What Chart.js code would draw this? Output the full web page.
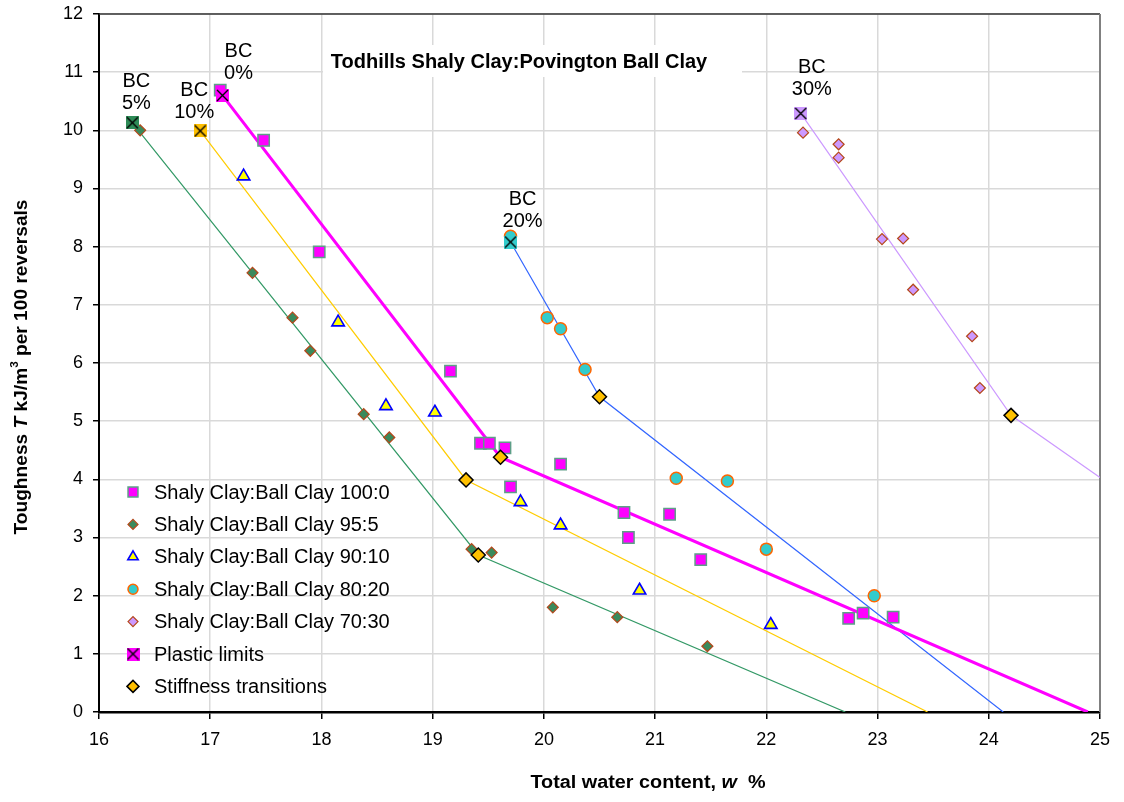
<!DOCTYPE html>
<html>
<head>
<meta charset="utf-8">
<title>Toughness vs water content</title>
<script src="https://cdn.jsdelivr.net/npm/chart.js@4.4.1/dist/chart.umd.min.js"></script>
<style>
  html, body { margin: 0; padding: 0; background: #fff; }
  #wrap { width: 1124px; height: 802px; }
</style>
</head>
<body>
<div id="wrap"><canvas id="toughChart" width="1124" height="802"></canvas></div>
<script>
// water content (x) and toughness (y)
const w100 = [17.09, 17.48, 17.98, 19.16, 19.43, 19.51, 19.65, 20.15, 19.70, 20.72, 21.13, 20.76, 21.41, 22.74, 22.87, 23.14];
const t100 = [10.69, 9.83, 7.91, 5.86, 4.62, 4.62, 4.54, 4.26, 3.87, 3.43, 3.40, 3.00, 2.62, 1.61, 1.70, 1.63];

const w95 = [16.37, 17.38, 17.74, 17.90, 18.38, 18.61, 19.35, 19.53, 20.08, 20.66, 21.47];
const t95 = [10.00, 7.55, 6.78, 6.21, 5.12, 4.72, 2.80, 2.74, 1.80, 1.63, 1.13];

const w90 = [17.30, 18.15, 18.58, 19.02, 19.79, 20.15, 20.86, 22.04];
const t90 = [9.21, 6.70, 5.26, 5.15, 3.61, 3.21, 2.09, 1.50];

const w80 = [19.70, 20.03, 20.15, 20.37, 21.19, 21.65, 22.00, 22.97];
const t80 = [8.18, 6.78, 6.59, 5.89, 4.02, 3.97, 2.80, 2.00];

const w70 = [22.33, 22.65, 22.65, 23.04, 23.23, 23.32, 23.85, 23.92];
const t70 = [9.96, 9.76, 9.53, 8.13, 8.14, 7.26, 6.46, 5.57];

// plastic limits, in order BC 0%, 5%, 10%, 20%, 30%
const plasticNames = ['0%', '5%', '10%', '20%', '30%'];
const wPlastic = [17.11, 16.30, 16.91, 19.70, 22.31];
const tPlastic = [10.60, 10.13, 9.99, 8.08, 10.29];

const wStiff = [19.30, 19.41, 19.61, 20.50, 24.20];
const tStiff = [3.99, 2.70, 4.38, 5.42, 5.10];

// bilinear fit lines (vertices)
const wFit0 = [17.11, 19.61, 24.89];   const tFit0 = [10.60, 4.38, 0];
const wFit5 = [16.30, 19.41, 22.71];   const tFit5 = [10.13, 2.70, 0];
const wFit10 = [16.91, 19.30, 23.45];  const tFit10 = [9.99, 3.99, 0];
const wFit20 = [19.70, 20.50, 24.13];  const tFit20 = [8.08, 5.42, 0];
const wFit30 = [22.31, 24.20, 25.00];  const tFit30 = [10.29, 5.10, 4.03];

const xTicks = [16, 17, 18, 19, 20, 21, 22, 23, 24, 25];
const yTicks = [0, 1, 2, 3, 4, 5, 6, 7, 8, 9, 10, 11, 12];

const FONT = '"Liberation Sans", Arial, sans-serif';

const pts = (xs, ys) => xs.map((x, i) => ({ x: x, y: ys[i] }));

// square with a cross, for the plastic limit marks
function crossSquare(fill, size) {
    const c = document.createElement('canvas');
    c.width = size; c.height = size;
    const g = c.getContext('2d');
    g.fillStyle = fill;
    g.fillRect(0, 0, size, size);
    g.strokeStyle = '#000';
    g.lineWidth = 1.4;
    g.beginPath();
    g.moveTo(1, 1); g.lineTo(size - 1, size - 1);
    g.moveTo(size - 1, 1); g.lineTo(1, size - 1);
    g.stroke();
    return c;
}
const plasticColors = ['#FF00FF', '#2E8B57', '#FFC000', '#33CCCC', '#CC99FF'];
const plasticMarks = plasticColors.map(c => crossSquare(c, 13));

function fitLine(xs, ys, color, width) {
    return {
        isFit: true, data: pts(xs, ys), showLine: true, pointRadius: 0,
        borderColor: color, borderWidth: width, fill: false, order: 10
    };
}

const datasets = [
    fitLine(wFit0, tFit0, '#FF00FF', 3),
    fitLine(wFit5, tFit5, '#339966', 1.2),
    fitLine(wFit10, tFit10, '#FFCC00', 1.2),
    fitLine(wFit20, tFit20, '#3366FF', 1.2),
    fitLine(wFit30, tFit30, '#CC99FF', 1.2),
    {
        label: 'Shaly Clay:Ball Clay 100:0', data: pts(w100, t100),
        pointStyle: 'rect', pointRadius: 8, legendRadius: 7,
        backgroundColor: '#FF00FF', borderColor: '#5E9E88', borderWidth: 1.5, order: 5
    },
    {
        label: 'Shaly Clay:Ball Clay 95:5', data: pts(w95, t95),
        pointStyle: 'rectRot', pointRadius: 5.5, legendRadius: 5,
        backgroundColor: '#3A8A5C', borderColor: '#B5471A', borderWidth: 1.2, order: 4
    },
    {
        label: 'Shaly Clay:Ball Clay 90:10', data: pts(w90, t90),
        pointStyle: 'triangle', pointRadius: 7.2, legendRadius: 6,
        backgroundColor: '#FFFF00', borderColor: '#0000FF', borderWidth: 1.6, order: 3
    },
    {
        label: 'Shaly Clay:Ball Clay 80:20', data: pts(w80, t80),
        pointStyle: 'circle', pointRadius: 6, legendRadius: 5,
        backgroundColor: '#33CCCC', borderColor: '#FF6600', borderWidth: 1.5, order: 3
    },
    {
        label: 'Shaly Clay:Ball Clay 70:30', data: pts(w70, t70),
        pointStyle: 'rectRot', pointRadius: 5.5, legendRadius: 5,
        backgroundColor: '#CC99FF', borderColor: '#B5471A', borderWidth: 1.2, order: 2
    },
    {
        label: 'Plastic limits', data: pts(wPlastic, tPlastic),
        pointStyle: plasticMarks, pointRadius: 6.5, legendRadius: 6,
        backgroundColor: plasticColors, borderWidth: 0, order: 1
    },
    {
        label: 'Stiffness transitions', data: pts(wStiff, tStiff),
        pointStyle: 'rectRot', pointRadius: 7, legendRadius: 6,
        backgroundColor: '#FFC000', borderColor: '#000', borderWidth: 1.5, order: 0
    }
];

// label offsets for the "BC n%" notes, relative to each plastic limit point
const noteOffsets = [[16, -44], [4, -41], [-6, -40], [12, -43], [11, -46]];

function drawRich(ctx, parts, size, targetLen) {
    let total = 0;
    const fontOf = p => (p.italic ? 'italic ' : '') + 'bold ' + (p.sup ? Math.round(size * 0.62) : size) + 'px ' + FONT;
    parts.forEach(p => { ctx.font = fontOf(p); p.w = ctx.measureText(p.t).width; total += p.w; });
    ctx.scale(targetLen / total, 1);
    ctx.textAlign = 'left';
    ctx.textBaseline = 'middle';
    let x = -total / 2;
    parts.forEach(p => {
        ctx.font = fontOf(p);
        ctx.fillText(p.t, x, p.sup ? -size * 0.38 : 0);
        x += p.w;
    });
}

const decor = {
    id: 'decor',
    beforeDatasetsDraw(chart) {
        const ctx = chart.ctx, a = chart.chartArea;
        ctx.save();
        // top and right frame
        ctx.strokeStyle = '#333';
        ctx.lineWidth = 1.5;
        ctx.beginPath(); ctx.moveTo(a.left, a.top); ctx.lineTo(a.right, a.top); ctx.stroke();
        ctx.strokeStyle = '#808080';
        ctx.lineWidth = 2;
        ctx.beginPath(); ctx.moveTo(a.right, a.top); ctx.lineTo(a.right, a.bottom); ctx.stroke();
        // chart title with white box
        ctx.fillStyle = '#fff';
        ctx.fillRect(323, 45, 419, 32);
        ctx.fillStyle = '#000';
        ctx.font = 'bold 20px ' + FONT;
        ctx.textAlign = 'center';
        ctx.textBaseline = 'middle';
        ctx.fillText('Todhills Shaly Clay:Povington Ball Clay', 519, 62);
        ctx.restore();
    },
    afterDatasetsDraw(chart) {
        const ctx = chart.ctx;
        const xs = chart.scales.x, ys = chart.scales.y;
        ctx.save();
        ctx.fillStyle = '#000';
        ctx.font = '20px ' + FONT;
        ctx.textAlign = 'center';
        ctx.textBaseline = 'middle';
        plasticNames.forEach((n, i) => {
            const px = xs.getPixelForValue(wPlastic[i]) + noteOffsets[i][0];
            const py = ys.getPixelForValue(tPlastic[i]) + noteOffsets[i][1];
            ctx.fillText('BC', px, py);
            ctx.fillText(n, px, py + 22);
        });
        ctx.restore();
    },
    afterDraw(chart) {
        const ctx = chart.ctx;
        const draw = Chart.helpers.drawPoint;
        // legend inside the plot
        ctx.save();
        let y = 492;
        chart.data.datasets.filter(d => !d.isFit).forEach(d => {
            const bg = Array.isArray(d.backgroundColor) ? d.backgroundColor[0] : d.backgroundColor;
            const style = Array.isArray(d.pointStyle) ? d.pointStyle[0] : d.pointStyle;
            ctx.fillStyle = bg;
            ctx.strokeStyle = d.borderColor || bg;
            ctx.lineWidth = d.borderWidth;
            draw(ctx, { pointStyle: style, radius: d.legendRadius, borderWidth: d.borderWidth, rotation: 0 }, 133, y);
            ctx.fillStyle = '#000';
            ctx.font = '20px ' + FONT;
            ctx.textAlign = 'left';
            ctx.textBaseline = 'middle';
            ctx.fillText(d.label, 154, y + 1);
            y += 32.4;
        });
        ctx.restore();

        // axis titles
        ctx.save();
        ctx.fillStyle = '#000';
        ctx.translate(22, 367);
        ctx.rotate(-Math.PI / 2);
        drawRich(ctx, [
            { t: 'Toughness ' }, { t: 'T', italic: true }, { t: ' kJ/m' },
            { t: '3', sup: true }, { t: ' per 100 reversals' }
        ], 18, 335);
        ctx.restore();

        ctx.save();
        ctx.fillStyle = '#000';
        ctx.translate(648, 783);
        drawRich(ctx, [
            { t: 'Total water content, ' }, { t: 'w', italic: true }, { t: '  %' }
        ], 18, 235);
        ctx.restore();
    }
};

new Chart(document.getElementById('toughChart').getContext('2d'), {
    type: 'scatter',
    data: { datasets: datasets },
    options: {
        responsive: false,
        animation: false,
        devicePixelRatio: 1,
        layout: { padding: { top: 14, right: 24, left: 0, bottom: 0 } },
        plugins: {
            legend: { display: false },
            tooltip: { enabled: false }
        },
        scales: {
            x: {
                type: 'linear', min: 16, max: 25,
                afterFit: s => { s.height = 90; s.paddingLeft = 0; s.paddingRight = 0; },
                afterBuildTicks: s => { s.ticks = xTicks.map(v => ({ value: v })); },
                ticks: { color: '#000', font: { family: FONT, size: 18 }, padding: 10, maxRotation: 0 },
                grid: { color: '#d9d9d9', lineWidth: 1.5, tickColor: '#000', tickLength: 7 },
                border: { color: '#000', width: 2.5 }
            },
            y: {
                type: 'linear', min: 0, max: 12,
                afterFit: s => { s.width = 99; s.paddingTop = 0; s.paddingBottom = 0; },
                afterBuildTicks: s => { s.ticks = yTicks.map(v => ({ value: v })); },
                ticks: { color: '#000', font: { family: FONT, size: 18 }, padding: 10 },
                grid: { color: '#d9d9d9', lineWidth: 1.5, tickColor: '#000', tickLength: 6 },
                border: { color: '#000', width: 2 }
            }
        }
    },
    plugins: [decor]
});
</script>
</body>
</html>
